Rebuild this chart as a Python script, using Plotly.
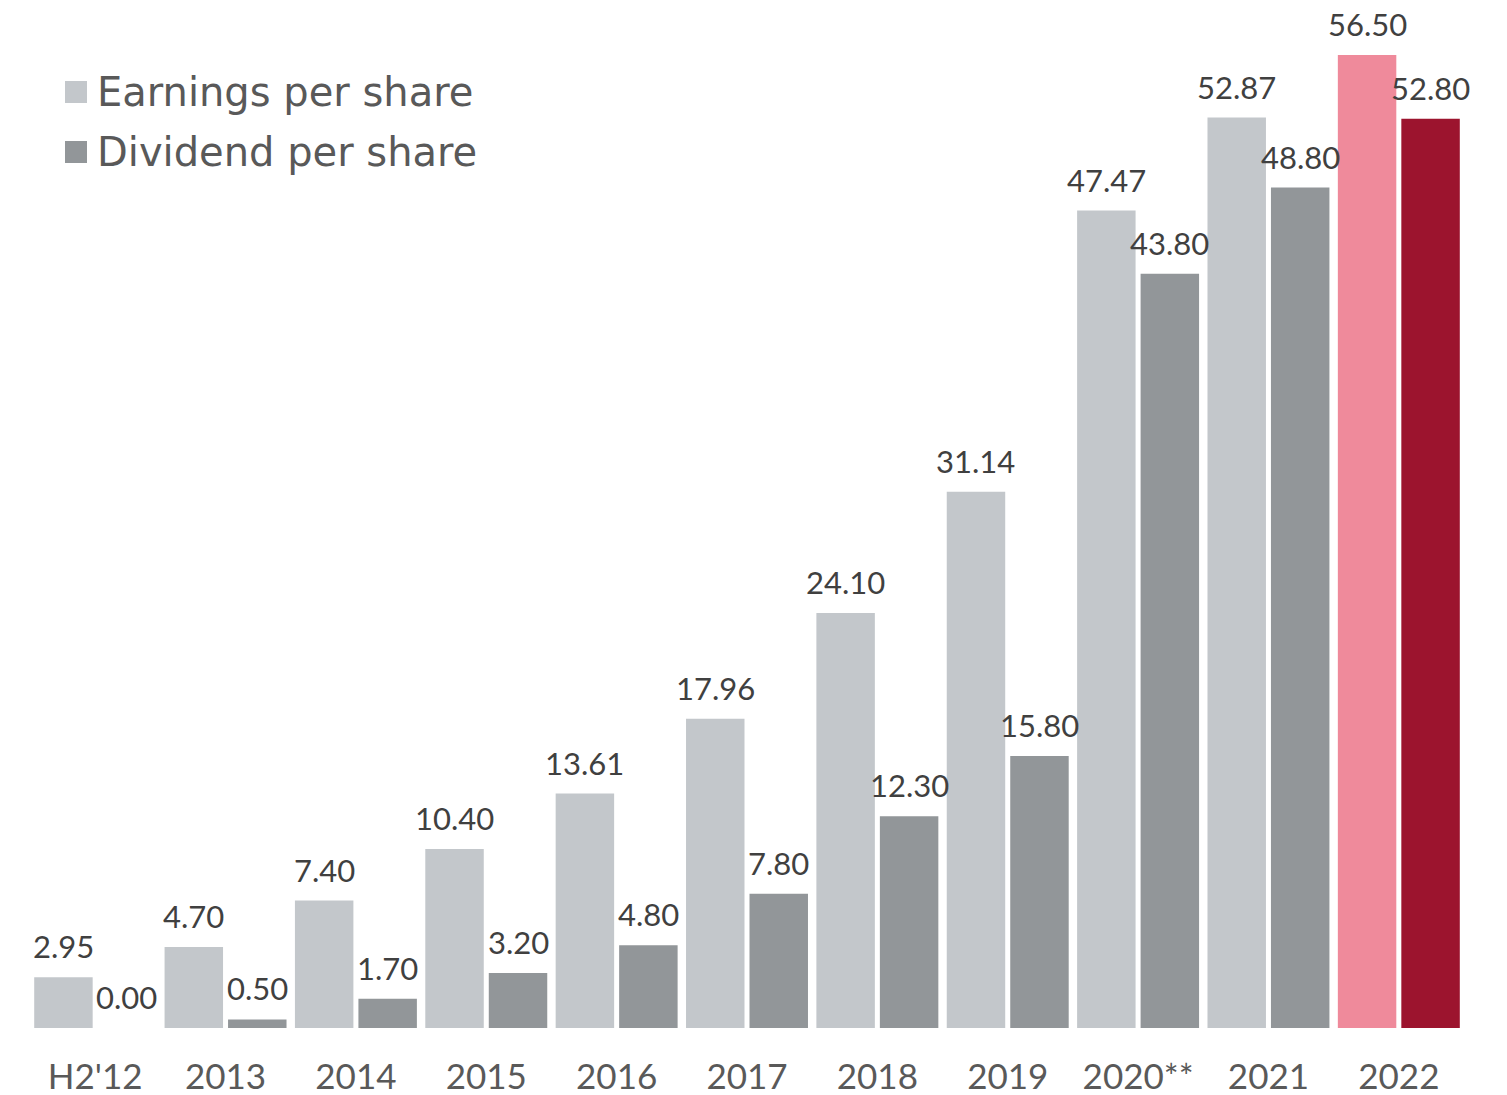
import plotly.graph_objects as go

# Per-share figures by year
categories = ["H2'12", "2013", "2014", "2015", "2016", "2017", "2018", "2019", "2020**", "2021", "2022"]
eps = [2.95, 4.70, 7.40, 10.40, 13.61, 17.96, 24.10, 31.14, 47.47, 52.87, 56.50]
dps = [0.00, 0.50, 1.70, 3.20, 4.80, 7.80, 12.30, 15.80, 43.80, 48.80, 52.80]
series_names = ["Earnings per share", "Dividend per share"]

# Colours: grey history, latest year highlighted
EPS_GREY = "#c3c7cb"
DPS_GREY = "#929699"
EPS_HI = "#ef8a9b"
DPS_HI = "#9c142e"
eps_colors = [EPS_GREY] * (len(categories) - 1) + [EPS_HI]
dps_colors = [DPS_GREY] * (len(categories) - 1) + [DPS_HI]

NUM_FONT = "Lato"
LEG_FONT = "DejaVu Sans"
LABEL_COLOR = "#404040"
TICK_COLOR = "#595959"

W, H = 1507, 1095
ML, MR, MT, MB = 30, 43, 0, 67
PW, PH = W - ML - MR, H - MT - MB

BARGAP = 0.026
BARGROUPGAP = 0.079

fig = go.Figure()
fig.add_trace(go.Bar(x=categories, y=eps, name=series_names[0],
                     marker=dict(color=eps_colors, line=dict(width=0))))
fig.add_trace(go.Bar(x=categories, y=dps, name=series_names[1],
                     marker=dict(color=dps_colors, line=dict(width=0))))

# value labels above each bar, offset to the bar's slot within its group
# (x given as category index on the category axis)
pitch = PW / len(categories)
half_slot = pitch * (1 - BARGAP) / 4
annotations = []
for vals, shift in ((eps, -half_slot), (dps, half_slot)):
    for i, v in enumerate(vals):
        annotations.append(dict(
            x=i, y=v, xref="x", yref="y", text=f"{v:.2f}", showarrow=False,
            xshift=shift, yanchor="bottom", yshift=10,
            font=dict(family=NUM_FONT, size=31, color=LABEL_COLOR)))

# legend drawn as swatches + text in the upper-left corner
def px_x(px):
    return (px - ML) / PW

def px_y(py):
    return 1 - (py - MT) / PH

shapes = []
for name, col, top in ((series_names[0], EPS_GREY, 81), (series_names[1], DPS_GREY, 141)):
    shapes.append(dict(type="rect", xref="paper", yref="paper",
                       x0=px_x(65), x1=px_x(87), y0=px_y(top + 22), y1=px_y(top),
                       fillcolor=col, line=dict(width=0)))
    annotations.append(dict(
        x=px_x(95), y=px_y(top + 11), xref="paper", yref="paper", text=name,
        showarrow=False, xanchor="left", yanchor="middle",
        font=dict(family=LEG_FONT, size=40, color=TICK_COLOR)))

ymax = 56.5 * PH / (PH - 55)

fig.update_layout(
    width=W, height=H,
    margin=dict(l=ML, r=MR, t=MT, b=MB, pad=0),
    barmode="group", bargap=BARGAP, bargroupgap=BARGROUPGAP,
    plot_bgcolor="white", paper_bgcolor="white",
    showlegend=False,
    annotations=annotations, shapes=shapes,
    xaxis=dict(type="category", range=[-0.5, len(categories) - 0.5],
               showgrid=False, showline=False, zeroline=False, ticks="",
               ticklabelstandoff=25,
               tickfont=dict(family=NUM_FONT, size=35, color=TICK_COLOR)),
    yaxis=dict(range=[0, ymax], visible=False, showgrid=False, zeroline=False),
)

fig.write_html("out.html")
